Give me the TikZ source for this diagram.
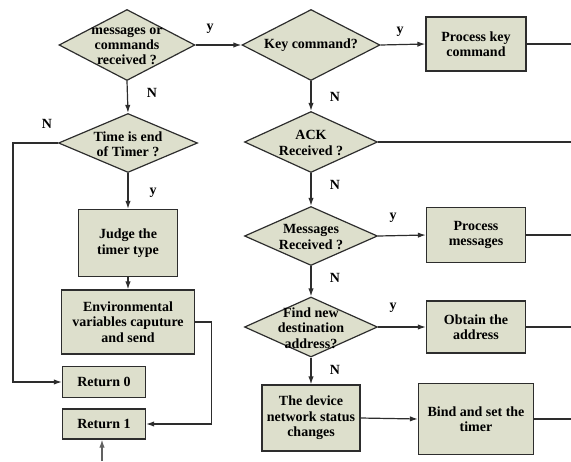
\documentclass[tikz,border=0pt]{standalone}
\usepackage{fontspec}
\setmainfont{Liberation Serif}
\usetikzlibrary{shapes.geometric,arrows.meta}
\definecolor{boxfill}{RGB}{221,223,204}
\definecolor{edge}{RGB}{45,45,45}
\begin{document}
\begin{tikzpicture}[x=0.75pt,y=-0.75pt,
  font=\fontsize{10.5}{11.5}\selectfont\bfseries,
  every path/.style={line width=0.9pt},
  dia/.style={diamond,draw=edge,fill=boxfill,inner sep=0pt},
  blk/.style={rectangle,draw=edge,fill=boxfill,inner sep=1pt,align=center},
  txt/.style={align=center,inner sep=0pt},
  arr/.style={-{Latex[length=6pt,width=4pt]}},
  lab/.style={inner sep=0pt}]
\useasboundingbox (0,0) rectangle (571,461);
% diamonds
\node[dia,minimum width=102pt,minimum height=53.25pt] (d1) at (127,45) {};
\node[txt] (d1t) at (127,46) {messages or\\commands\\received ?};
\node[dia,minimum width=103.5pt,minimum height=53.25pt] (kc) at (311,45) {};
\node[txt] (kct) at (311,45) {Key command?};
\node[dia,minimum width=99.75pt,minimum height=45.75pt] (ack) at (311,142) {};
\node[txt] (ackt) at (311,143) {ACK\\Received ?};
\node[dia,minimum width=99.75pt,minimum height=44.25pt] (msg) at (311,236) {};
\node[txt] (msgt) at (311,237) {Messages\\Received ?};
\node[dia,minimum width=99.75pt,minimum height=45pt] (fnd) at (311,327) {};
\node[txt] (fndt) at (311,328) {Find new\\destination\\address?};
\node[dia,minimum width=104.25pt,minimum height=44.25pt] (tm) at (128,143) {};
\node[txt] (tmt) at (128,144) {Time is end\\of Timer ?};
% boxes
\node[blk,minimum width=75pt,minimum height=40.5pt] (pk) at (476,44) {Process key\\command};
\node[blk,minimum width=74.25pt,minimum height=41.25pt] (pm) at (476,235) {Process\\messages};
\node[blk,minimum width=74.25pt,minimum height=39pt] (obt) at (476,327) {Obtain the\\address};
\node[blk,minimum width=73.5pt,minimum height=49.5pt] (dev) at (311,418) {The device\\network status\\changes};
\node[blk,minimum width=86.25pt,minimum height=53.25pt] (bind) at (476,419) {Bind and set the\\timer};
\node[blk,minimum width=74.25pt,minimum height=50.25pt] (judge) at (128,243) {Judge the\\timer type};
\node[blk,minimum width=99.75pt,minimum height=48pt] (env) at (128,322) {Environmental\\variables caputure\\and send};
\node[blk,minimum width=62.25pt,minimum height=23.25pt] (r0) at (104,382) {Return 0};
\node[blk,minimum width=62.25pt,minimum height=22.5pt] (r1) at (104,424) {Return 1};
% free ends
\coordinate (e1) at (571,44);
\coordinate (e2) at (571,142);
\coordinate (e3) at (571,235);
\coordinate (e4) at (571,327);
\coordinate (e5) at (571,419);
\coordinate (bot) at (102,461);
\coordinate (lx) at (13,143);
% connectors
\draw[edge,arr] (d1.east) -- (kc.west);
\draw[edge,arr] (kc.east) -- (pk.west);
\draw[edge] (pk.east) -- (e1);
\draw[edge,arr] (kc.south) -- (ack.north);
\draw[edge] (ack.east) -- (e2);
\draw[edge,arr] (ack.south) -- (msg.north);
\draw[edge,arr] (msg.east) -- (pm.west);
\draw[edge] (pm.east) -- (e3);
\draw[edge,arr] (msg.south) -- (fnd.north);
\draw[edge,arr] (fnd.east) -- (obt.west);
\draw[edge] (obt.east) -- (e4);
\draw[edge,arr] (fnd.south) -- (dev.north);
\draw[edge,arr] (dev.east) -- (bind.west);
\draw[edge] (bind.east) -- (e5);
\draw[edge,arr] (d1.south) -- (tm.north);
\draw[edge,arr] (tm.south) -- (judge.north);
\draw[edge,arr] (judge.south) -- (env.north);
\draw[edge,arr] (tm.west) -- (lx) |- (r0.west);
\draw[edge,arr] (env.east) -- ++(16,0) |- (r1.east);
\draw[edge!75,arr] (bot) -- (bot |- r1.south);
% labels
\node[lab] (ly1) at (210,29) {y};
\node[lab] (ly2) at (400,32) {y};
\node[lab] (ly3) at (393,218) {y};
\node[lab] (ly4) at (393,308) {y};
\node[lab] (ly5) at (153,193) {y};
\node[lab] (ln1) at (152,93) {N};
\node[lab] (ln2) at (335,97) {N};
\node[lab] (ln3) at (335,185) {N};
\node[lab] (ln4) at (335,278) {N};
\node[lab] (ln5) at (335,370) {N};
\node[lab] (ln6) at (47,124) {N};
\end{tikzpicture}
\end{document}
